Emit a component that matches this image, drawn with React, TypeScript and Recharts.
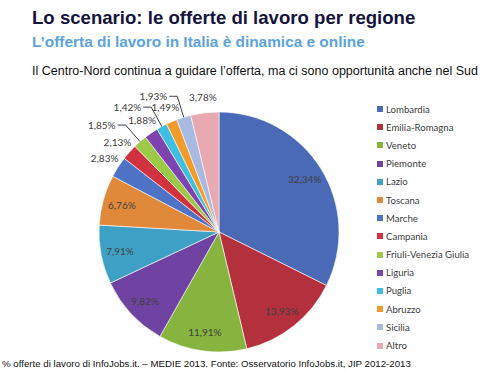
import { PieChart, Pie, Cell, Legend } from "recharts";

const regions = [
  "Lombardia",
  "Emilia-Romagna",
  "Veneto",
  "Piemonte",
  "Lazio",
  "Toscana",
  "Marche",
  "Campania",
  "Friuli-Venezia Giulia",
  "Liguria",
  "Puglia",
  "Abruzzo",
  "Sicilia",
  "Altro",
];

const shares = [32.34, 13.93, 11.91, 9.82, 7.91, 6.76, 2.83, 2.13, 1.85, 1.88, 1.42, 1.49, 1.93, 3.78];

const COLORS = [
  "#4a69b6",
  "#b3303c",
  "#86b43f",
  "#7042a2",
  "#3fa0c6",
  "#e0893a",
  "#4d72c6",
  "#d0323f",
  "#9bcb45",
  "#7d44b0",
  "#3fbfdf",
  "#f19b2c",
  "#a9bae2",
  "#e8a9b0",
];

// small slices: labels outside; some pushed further out with a leader line
const PUSHED = new Set([8, 10, 12]);

const data = regions.map((name, i) => ({ name, value: shares[i] }));

const RAD = Math.PI / 180;
const fmt = (v: number) => v.toFixed(2).replace(".", ",") + "%";
const labelFont = { fontFamily: "Lato, 'Open Sans', sans-serif", fontSize: 10, fill: "#404040" };

function renderLabel(props: any) {
  const { cx, cy, midAngle, outerRadius, value, index } = props;
  const cos = Math.cos(-midAngle * RAD);
  const sin = Math.sin(-midAngle * RAD);

  if (value > 5) {
    const r = outerRadius * 0.84;
    return (
      <text x={cx + r * cos} y={cy + r * sin} textAnchor="middle" dominantBaseline="central" {...labelFont}>
        {fmt(value)}
      </text>
    );
  }
  if (PUSHED.has(index)) {
    const sx = cx + outerRadius * cos;
    const sy = cy + outerRadius * sin;
    const ex = cx + (outerRadius + 22) * cos;
    const ey = cy + (outerRadius + 22) * sin;
    return (
      <g>
        <polyline points={`${sx},${sy} ${ex},${ey} ${ex - 8},${ey}`} fill="none" stroke="#404040" strokeWidth={1} />
        <text x={ex - 10} y={ey} textAnchor="end" dominantBaseline="central" {...labelFont}>
          {fmt(value)}
        </text>
      </g>
    );
  }
  const r = outerRadius + 16;
  return (
    <text x={cx + r * cos} y={cy + r * sin} textAnchor="middle" dominantBaseline="central" {...labelFont}>
      {fmt(value)}
    </text>
  );
}

function LegendList() {
  return (
    <ul style={{ listStyle: "none", margin: 0, padding: 0 }}>
      {regions.map((name, i) => (
        <li
          key={name}
          style={{
            height: 18.2,
            display: "flex",
            alignItems: "center",
            fontFamily: "Lato, 'Open Sans', sans-serif",
            fontSize: 9.6,
            color: "#404040",
          }}
        >
          <span style={{ width: 6, height: 6, background: COLORS[i], marginRight: 3, display: "inline-block" }} />
          {name}
        </li>
      ))}
    </ul>
  );
}

export default function App() {
  return (
    <div
      style={{
        position: "absolute",
        left: 0,
        top: 0,
        width: 500,
        height: 372,
        background: "#fff",
        fontFamily: "Arial, 'Liberation Sans', sans-serif",
        overflow: "hidden",
      }}
    >
      <div style={{ position: "absolute", left: 32, top: 7, fontSize: 18.6, fontWeight: "bold", color: "#14143c", whiteSpace: "nowrap" }}>
        Lo scenario: le offerte di lavoro per regione
      </div>
      <div style={{ position: "absolute", left: 32, top: 33, fontSize: 15.4, fontWeight: "bold", color: "#5ba3e0", whiteSpace: "nowrap" }}>
        L’offerta di lavoro in Italia è dinamica e online
      </div>
      <div style={{ position: "absolute", left: 32, top: 64, fontSize: 12.5, color: "#111", whiteSpace: "nowrap" }}>
        Il Centro-Nord continua a guidare l’offerta, ma ci sono opportunità anche nel Sud
      </div>
      <div style={{ position: "absolute", left: 2, top: 358, fontSize: 9.7, color: "#111", whiteSpace: "nowrap" }}>
        % offerte di lavoro di InfoJobs.it. – MEDIE 2013. Fonte: Osservatorio InfoJobs.it, JIP 2012-2013
      </div>
      <div style={{ position: "absolute", left: 0, top: 0 }}>
        <PieChart width={500} height={372}>
          <Pie
            data={data}
            dataKey="value"
            nameKey="name"
            cx={214}
            cy={227}
            outerRadius={120}
            startAngle={90}
            endAngle={-270}
            stroke="#ffffff"
            strokeWidth={0.6}
            label={renderLabel}
            labelLine={false}
            isAnimationActive={false}
          >
            {data.map((d, i) => (
              <Cell key={d.name} fill={COLORS[i]} />
            ))}
          </Pie>
          <Legend
            layout="vertical"
            content={<LegendList />}
            wrapperStyle={{ position: "absolute", left: 377, top: 100, width: 120 }}
          />
        </PieChart>
      </div>
    </div>
  );
}
